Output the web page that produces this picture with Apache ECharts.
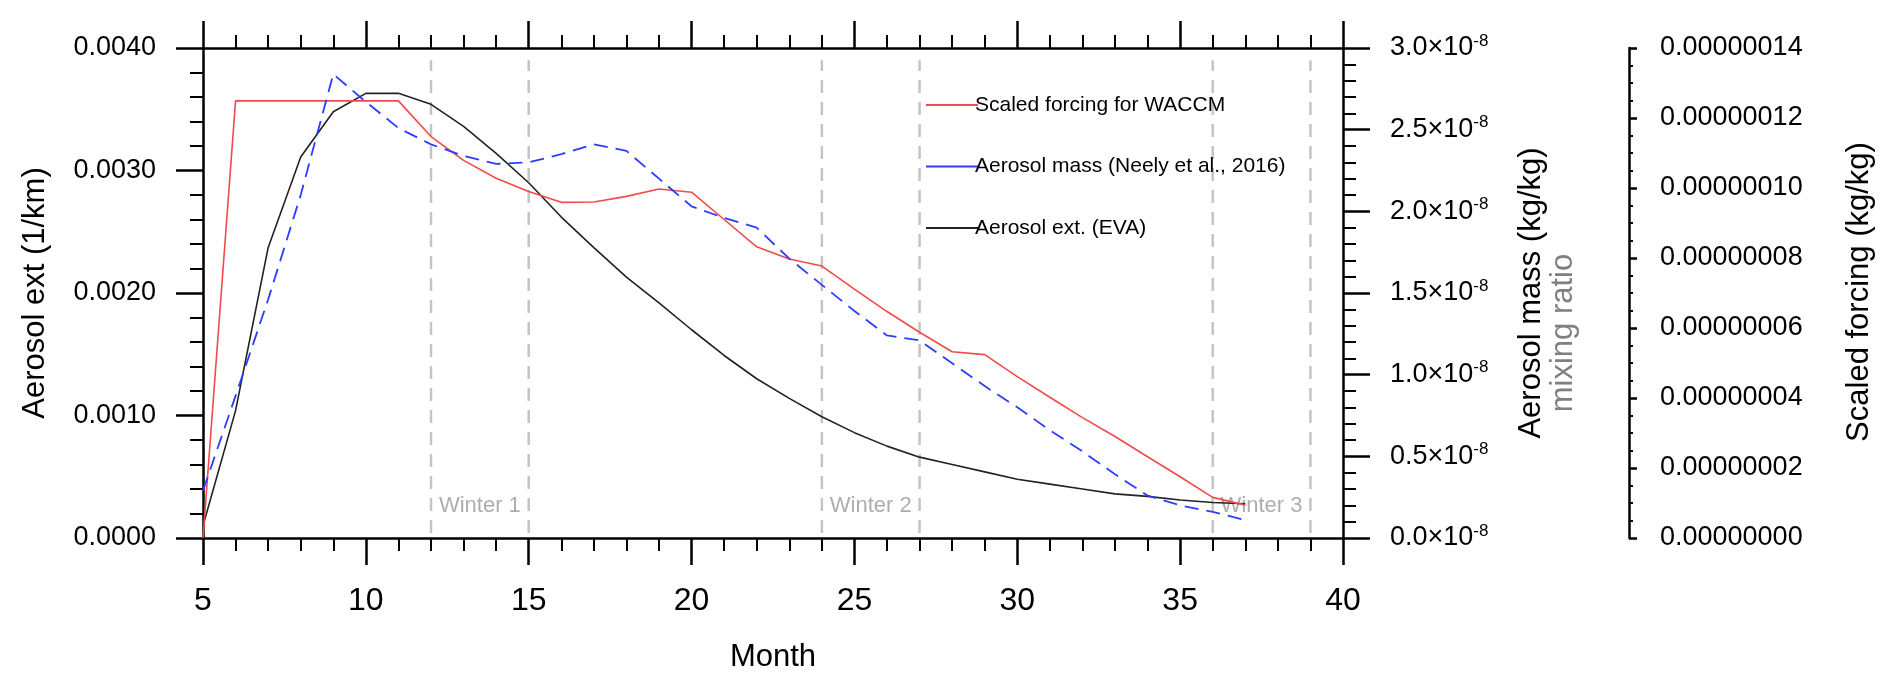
<!DOCTYPE html>
<html>
<head>
<meta charset="utf-8">
<script src="https://cdn.jsdelivr.net/npm/echarts@6/dist/echarts.min.js"></script>
<style>
html,body{margin:0;padding:0;background:#fff;}
#chart{width:1892px;height:686px;}
</style>
</head>
<body>
<div id="chart"></div>
<script>
// ---- data ----
const months = [5,6,7,8,9,10,11,12,13,14,15,16,17,18,19,20,21,22,23,24,25,26,27,28,29,30,31,32,33,34,35,36,37];
// Scaled forcing for WACCM, kg/kg, in units of 1e-8 (third axis)
const forcingE8 = [0.0,12.49,12.49,12.49,12.49,12.49,12.49,11.47,10.79,10.28,9.90,9.59,9.60,9.76,9.97,9.88,9.10,8.32,7.97,7.77,7.11,6.47,5.88,5.32,5.24,4.61,4.02,3.44,2.90,2.32,1.75,1.16,0.94];
// Aerosol mass (Neely et al., 2016), kg/kg, in units of 1e-8 (right axis)
const massE8 = [0.29,0.87,1.46,2.10,2.84,2.67,2.51,2.41,2.34,2.29,2.30,2.35,2.41,2.37,2.20,2.03,1.96,1.90,1.71,1.55,1.39,1.24,1.21,1.07,0.93,0.80,0.66,0.53,0.39,0.26,0.20,0.16,0.11];
// Aerosol ext. (EVA), 1/km (left axis)
const extEVA = [0.0001,0.00104,0.00237,0.00311,0.00348,0.00363,0.00363,0.00354,0.00336,0.00314,0.00290,0.00262,0.00237,0.00213,0.00192,0.00170,0.00149,0.00130,0.00114,0.00099,0.00086,0.00075,0.00066,0.00060,0.00054,0.00048,0.00044,0.00040,0.00036,0.00034,0.00031,0.00029,0.00028];
const winterBounds = [12,15,24,27,36,39];
const winterCenters = [13.5,25.5,37.5];
const winterNames = ['Winter 1','Winter 2','Winter 3'];
const winterLabelY = 0.00026;
const winterLineRange = [0.00004,0.0039];
const seriesNames = ['Scaled forcing for WACCM','Aerosol mass (Neely et al., 2016)','Aerosol ext. (EVA)'];
const seriesColors = ['#f04a4a','#2d3cff','#222222'];

const FONT = '"Liberation Sans", Arial, Helvetica, sans-serif';
const chart = echarts.init(document.getElementById('chart'), null, {renderer:'canvas'});

function pairs(xs, ys, k){ return xs.map((x,i)=>[x, ys[i]*k]); }

const axisBlack = {color:'#000', width:2.5};
function xAx(pos, showLabel){
  return {type:'value', min:5, max:40, interval:5, position:pos, gridIndex:0,
    axisLine:{show:true,onZero:false,lineStyle:axisBlack},
    axisTick:{show:true,inside:false,length:27,lineStyle:{color:'#000',width:2.5}},
    minorTick:{show:true,splitNumber:5,length:13,lineStyle:{color:'#000',width:2}},
    axisLabel:{show:showLabel,color:'#000',fontSize:32,fontFamily:FONT,margin:47},
    splitLine:{show:false}, minorSplitLine:{show:false}};
}

const winterLineSeries = winterBounds.map(b => ({
  type:'line', xAxisIndex:0, yAxisIndex:0, silent:true, symbol:'none', z:1,
  data:[[b, winterLineRange[0]],[b, winterLineRange[1]]],
  lineStyle:{color:'#c4c4c4', width:2.5, type:[13,9]}
}));

const option = {
  animation:false,
  backgroundColor:'#ffffff',
  textStyle:{fontFamily:FONT},
  grid:{left:203, top:48, width:1140, height:490, containLabel:false},
  legend:{
    data:seriesNames, orient:'vertical', left:921, top:89.5,
    icon:'rect', itemWidth:52, itemHeight:2, itemGap:40.5,
    textStyle:{fontSize:21, lineHeight:21, color:'#000', fontFamily:FONT, padding:[0,0,0,-8]}
  },
  xAxis:[ xAx('bottom', true), xAx('top', false) ],
  yAxis:[
    {type:'value', min:0, max:0.004, interval:0.001, position:'left',
     axisLine:{show:true,onZero:false,lineStyle:axisBlack},
     axisTick:{show:true,inside:false,length:27,lineStyle:{color:'#000',width:2.5}},
     minorTick:{show:true,splitNumber:5,length:13,lineStyle:{color:'#000',width:2}},
     axisLabel:{color:'#000',fontSize:27,fontFamily:FONT,margin:47,formatter:v=>v.toFixed(4)},
     splitLine:{show:false}},
    {type:'value', min:0, max:3e-8, interval:0.5e-8, position:'right',
     axisLine:{show:true,onZero:false,lineStyle:axisBlack},
     axisTick:{show:true,inside:false,length:27,lineStyle:{color:'#000',width:2.5}},
     minorTick:{show:true,splitNumber:5,length:13,lineStyle:{color:'#000',width:2}},
     axisLabel:{color:'#000',fontSize:27,fontFamily:FONT,margin:47,
       formatter:v=>(v/1e-8).toFixed(1)+'\u00d710{sup|-8}',
       rich:{sup:{fontSize:17,color:'#000',fontFamily:FONT,verticalAlign:'top',padding:[0,0,14,0]}}},
     splitLine:{show:false}},
    {type:'value', min:0, max:1.4e-7, interval:2e-8, position:'right', offset:286,
     axisLine:{show:true,onZero:false,lineStyle:axisBlack},
     axisTick:{show:true,inside:false,length:8,lineStyle:{color:'#000',width:2.5}},
     minorTick:{show:true,splitNumber:4,length:4,lineStyle:{color:'#000',width:2}},
     axisLabel:{color:'#000',fontSize:27,fontFamily:FONT,margin:31,formatter:v=>v.toFixed(8)},
     splitLine:{show:false}}
  ],
  series:[
    ...winterLineSeries,
    {type:'scatter', xAxisIndex:0, yAxisIndex:0, silent:true, symbolSize:0, z:2,
     data:winterCenters.map((c,i)=>({value:[c,winterLabelY], name:winterNames[i]})),
     label:{show:true, position:'inside', formatter:p=>p.name, color:'#999', fontSize:22, fontFamily:FONT}},
    {name:seriesNames[2], type:'line', xAxisIndex:0, yAxisIndex:0, symbol:'none', z:3,
     data:pairs(months, extEVA, 1), itemStyle:{color:seriesColors[2]}, lineStyle:{color:seriesColors[2], width:1.6}},
    {name:seriesNames[0], type:'line', xAxisIndex:0, yAxisIndex:2, symbol:'none', z:4,
     data:pairs(months, forcingE8, 1e-8), itemStyle:{color:seriesColors[0]}, lineStyle:{color:seriesColors[0], width:1.6}},
    {name:seriesNames[1], type:'line', xAxisIndex:0, yAxisIndex:1, symbol:'none', z:5,
     data:pairs(months, massE8, 1e-8), itemStyle:{color:seriesColors[1]}, lineStyle:{color:seriesColors[1], width:1.8, type:[14,8]}}
  ],
  graphic:[
    {type:'text', x:35, y:293, rotation:Math.PI/2,
     style:{text:'Aerosol ext (1/km)', fontSize:31, fontFamily:FONT, fill:'#000', align:'center', verticalAlign:'middle'}},
    {type:'text', x:773, y:657,
     style:{text:'Month', fontSize:31, fontFamily:FONT, fill:'#000', align:'center', verticalAlign:'middle'}},
    {type:'text', x:1531, y:293, rotation:Math.PI/2,
     style:{text:'Aerosol mass (kg/kg)', fontSize:31, fontFamily:FONT, fill:'#000', align:'center', verticalAlign:'middle'}},
    {type:'text', x:1563, y:333, rotation:Math.PI/2,
     style:{text:'mixing ratio', fontSize:31, fontFamily:FONT, fill:'#808080', align:'center', verticalAlign:'middle'}},
    {type:'text', x:1859, y:292, rotation:Math.PI/2,
     style:{text:'Scaled forcing (kg/kg)', fontSize:31, fontFamily:FONT, fill:'#000', align:'center', verticalAlign:'middle'}}
  ]
};
chart.setOption(option);
</script>
</body>
</html>
